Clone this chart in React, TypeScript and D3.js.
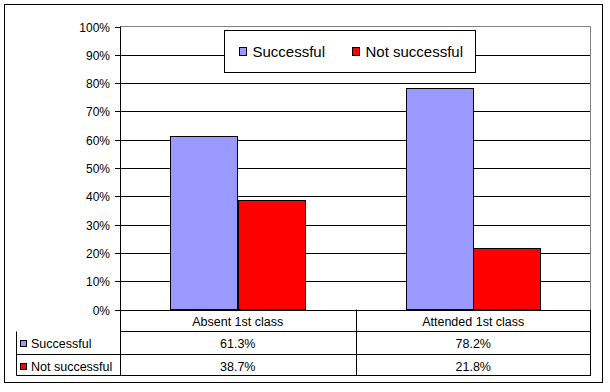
import React from "react";
import * as d3 from "d3";

const categories = ["Absent 1st class", "Attended 1st class"];
const seriesNames = ["Successful", "Not successful"];
const successful = [0.613, 0.782];
const notSuccessful = [0.387, 0.218];
const tickValues = [0, 0.1, 0.2, 0.3, 0.4, 0.5, 0.6, 0.7, 0.8, 0.9, 1];
const colors = ["#9999FF", "#FF0000"];

const W = 610, H = 392;
const left = 120, right = 591, top = 26.5, bottom = 309.5;
const tableLeft = 16.5;
const rowLines = [309.5, 331.5, 354.5, 375.5];
const font = "'Liberation Sans', Arial, sans-serif";

export default function App() {
  const series = [successful, notSuccessful];
  const x = d3.scaleBand<string>().domain(categories).range([left, right]);
  const inner = d3.scaleBand<number>().domain([0, 1]).range([0, x.bandwidth()])
    .paddingOuter(0.75).paddingInner(0);
  const y = d3.scaleLinear().domain([0, 1]).range([bottom, top]);
  const fmtTick = d3.format(".0%");
  const fmtCell = d3.format(".1%");

  return (
    <svg width={W} height={H} style={{ position: "absolute", left: 0, top: 0 }}
      fontFamily={font}>
      <rect x={0} y={0} width={W} height={H} fill="#fff" />
      <rect x={4.5} y={4.5} width={598} height={378} fill="none" stroke="#000" />

      {/* gridlines */}
      {tickValues.map((t) => (
        <g key={t}>
          <line x1={left - 5} x2={t === 1 ? left : right} y1={Math.round(y(t)) + 0.5}
            y2={Math.round(y(t)) + 0.5} stroke="#000" />
          <text x={110} y={Math.round(y(t)) + 4.5} textAnchor="end" fontSize={12}>{fmtTick(t)}</text>
        </g>
      ))}
      {/* plot border top & right in gray */}
      <path d={`M${left},${top}H${right - 0.5}V${bottom}`} fill="none" stroke="#808080" />

      {/* bars */}
      {categories.map((c, ci) =>
        series.map((s, si) => {
          const bx = Math.round((x(c) as number) + (inner(si) as number)) + 0.5;
          const bw = Math.round(inner.bandwidth());
          const by = Math.round(y(s[ci])) + 0.5;
          return (
            <rect key={c + si} x={bx} y={by} width={bw} height={bottom - by}
              fill={colors[si]} stroke="#000" />
          );
        })
      )}

      {/* y axis */}
      <line x1={left + 0.5} x2={left + 0.5} y1={top} y2={rowLines[3]} stroke="#000" />

      {/* data table */}
      {rowLines.slice(1).map((ry, i) => (
        <line key={ry} x1={i === 0 ? left : tableLeft} x2={right} y1={ry} y2={ry} stroke="#000" />
      ))}
      <line x1={tableLeft} x2={tableLeft} y1={rowLines[1]} y2={rowLines[3]} stroke="#000" />
      <line x1={right - 0.5} x2={right - 0.5} y1={rowLines[0]} y2={rowLines[3]} stroke="#000" />
      {categories.slice(1).map((c) => (
        <line key={c} x1={Math.round(x(c) as number) + 0.5} x2={Math.round(x(c) as number) + 0.5}
          y1={rowLines[0]} y2={rowLines[3]} stroke="#000" />
      ))}
      {categories.map((c) => (
        <text key={c} x={(x(c) as number) + x.bandwidth() / 2} y={rowLines[0] + 16}
          textAnchor="middle" fontSize={12.5}>{c}</text>
      ))}
      {seriesNames.map((n, si) => (
        <g key={n}>
          <rect x={20.5} y={rowLines[si + 1] + 9} width={6} height={6} fill={colors[si]} stroke="#000" />
          <text x={31} y={rowLines[si + 1] + 16.5} fontSize={12.5}>{n}</text>
          {categories.map((c, ci) => (
            <text key={c} x={(x(c) as number) + x.bandwidth() / 2} y={rowLines[si + 1] + 16.5}
              textAnchor="middle" fontSize={12.5}>{fmtCell(series[si][ci])}</text>
          ))}
        </g>
      ))}

      {/* legend */}
      <rect x={224.5} y={30.5} width={251} height={42} fill="#fff" stroke="#000" />
      {seriesNames.map((n, si) => {
        const lx = si === 0 ? 239.5 : 352.5;
        return (
          <g key={n}>
            <rect x={lx} y={47.5} width={7} height={8} fill={colors[si]} stroke="#000" />
            <text x={lx + 13} y={57} fontSize={15}>{n}</text>
          </g>
        );
      })}
    </svg>
  );
}
